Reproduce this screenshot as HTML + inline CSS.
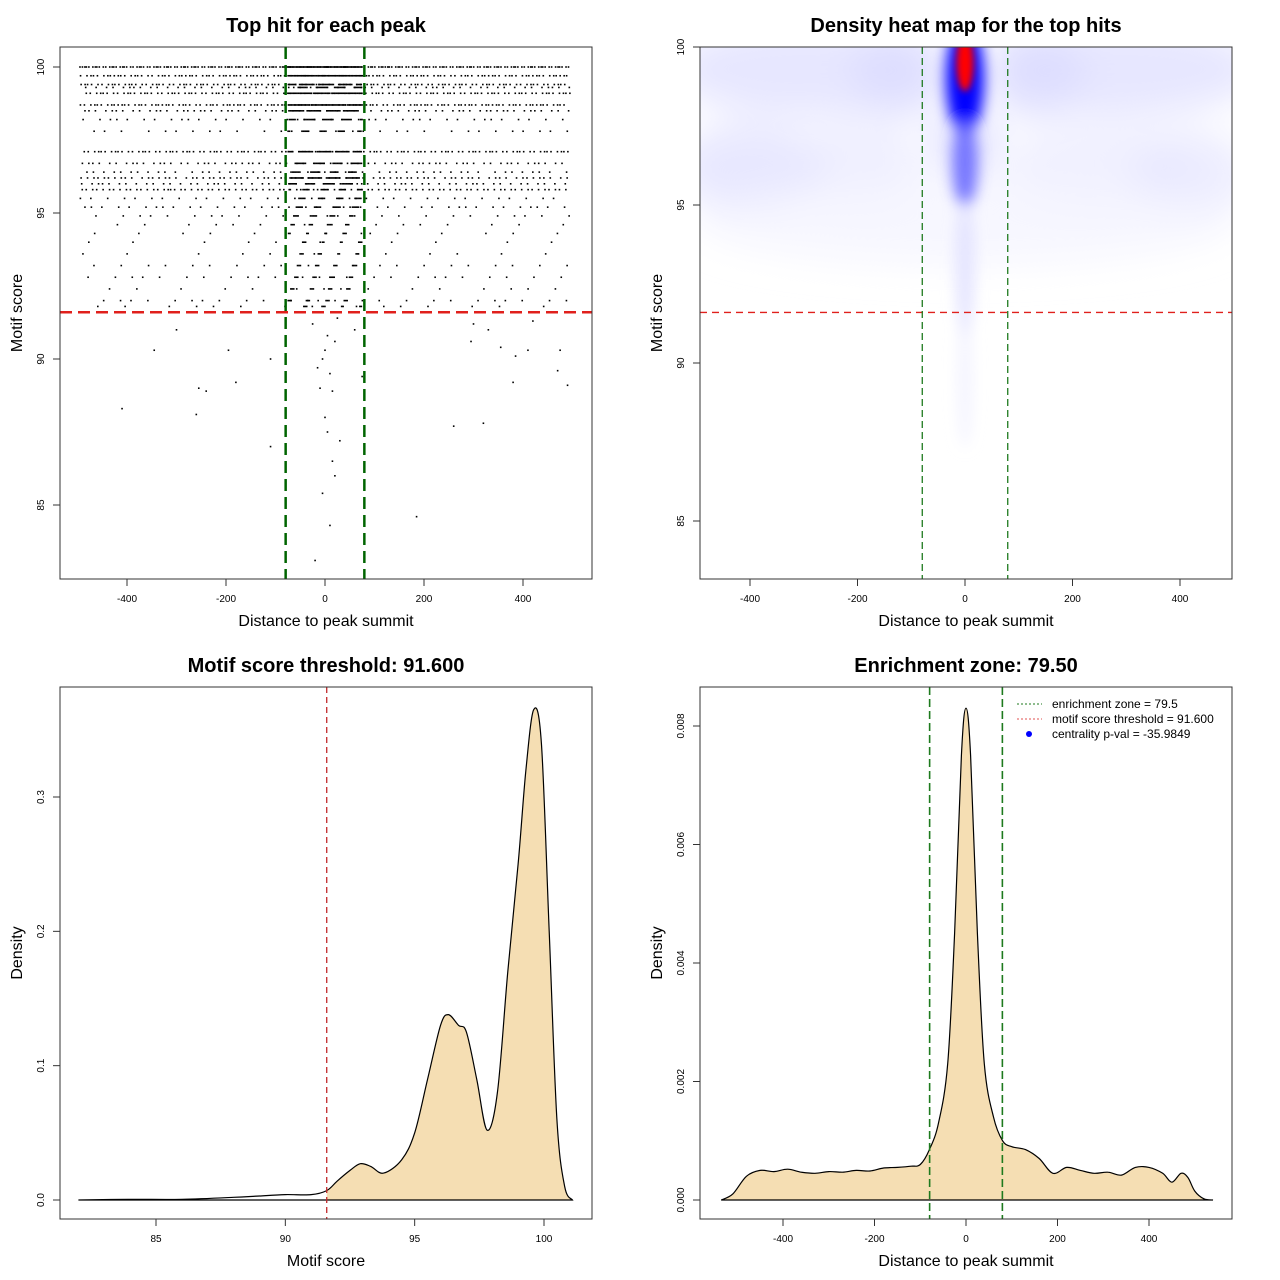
<!DOCTYPE html>
<html><head><meta charset="utf-8"><style>
html,body{margin:0;padding:0;background:#fff}
svg{display:block;font-family:"Liberation Sans",sans-serif}
</style></head><body>
<svg id="s" width="1280" height="1280" viewBox="0 0 1280 1280" xmlns="http://www.w3.org/2000/svg">
<defs>
<filter id="blur" x="-50%" y="-50%" width="200%" height="200%"><feGaussianBlur stdDeviation="18"/></filter>
<filter id="blur2" x="-50%" y="-50%" width="200%" height="200%"><feGaussianBlur stdDeviation="7"/></filter>
<filter id="blur3" x="-50%" y="-50%" width="200%" height="200%"><feGaussianBlur stdDeviation="3.5"/></filter>
<clipPath id="c2"><rect x="700" y="47" width="532" height="532"/></clipPath>
</defs>
</svg>
<script>
// ---- data ----
const rowScores = [100,99.7,99.4,99.3,99.1,98.7,98.5,98.2,97.8,97.1,96.7,96.4,96.2,96.0,95.8,95.5,95.2,94.9,94.6,94.3,94.0,93.6,93.2,92.8,92.4,92.0,91.8];
const rowWide   = [180,120,110,60,110,120,70,40,30,110,70,50,80,60,90,35,40,25,15,12,10,12,20,25,15,25,15];
const rowCenter = [60,60,40,30,50,50,40,30,20,40,30,25,40,30,20,20,20,15,12,10,10,10,12,12,12,12,10];
const sparseX = [-410,-345,-300,-260,-255,-240,-195,-180,-110,-110,-20,10,15,20,-5,5,0,-10,10,-5,0,20,60,75,80,185,260,295,320,330,355,385,380,410,470,475,490,-200,300,420,25,15,-15,5,30,-25];
const sparseY = [88.3,90.3,91.0,88.1,89.0,88.9,90.3,89.2,90.0,87.0,83.1,84.3,86.5,86.0,85.4,87.5,88.0,89.0,89.5,90.0,90.3,90.6,91.0,89.4,88.2,84.6,87.7,90.6,87.8,91.0,90.4,90.1,89.2,90.3,89.6,90.3,89.1,91.6,91.2,91.3,91.4,88.9,89.7,90.8,87.2,91.2,90.9];
const threshold = 91.6;
const zone = 79.5;
// heatmap blobs: x, score, half-width (bp), half-height (score), colour, opacity
const blobX   = [0, 0, 0, 0, 0, 0, -300,300,-120,130, -400,-200,250,420, 0, 0];
const blobY   = [99.0,99.3,99.5,96.3,93.0,89.5, 99.3,99.3,99.2,99.2, 96.2,96.3,96.2,96.0, 97.0, 94.5];
const blobRX  = [36,32,16,24,18,14, 250,250,90,90, 140,120,180,110, 60, 500];
const blobRY  = [1.8,1.4,0.9,1.4,2.2,2.2, 1.5,1.5,1.5,1.5, 1.4,1.4,1.4,1.4, 1.0, 1.4];
const blobCol = ["#0000ff","#0000ff","#ff0000","#6a6aff","#dcdcff","#ececff","#e4e4ff","#e4e4ff","#dcdcff","#dcdcff","#e2e2ff","#e8e8ff","#eaeaff","#e6e6ff","#d0d0ff","#f4f4ff"];
const blobOp  = [1,1,1,0.9,0.7,0.6, 0.9,0.9,0.7,0.7, 0.8,0.7,0.7,0.7, 0.7, 0.7];
const scoreX = [82,84,86,88,89,90,91,91.6,92,92.5,92.9,93.3,93.8,94.5,95,95.5,96,96.3,96.7,97,97.4,97.8,98.2,98.6,99,99.3,99.6,99.9,100.2,100.5,100.8,101.1];
const scoreD = [0,0.0005,0.0005,0.002,0.003,0.004,0.004,0.007,0.014,0.022,0.027,0.025,0.02,0.03,0.05,0.09,0.13,0.138,0.13,0.125,0.09,0.052,0.08,0.17,0.25,0.32,0.365,0.34,0.2,0.06,0.01,0];
const distX = [-535,-510,-480,-450,-420,-390,-360,-330,-300,-270,-240,-210,-180,-150,-120,-100,-80,-60,-40,-25,-10,0,10,25,40,60,80,100,130,160,190,220,250,280,310,340,370,400,430,450,470,485,500,520,540];
const distD = [0,0.1,0.4,0.5,0.48,0.52,0.47,0.45,0.48,0.47,0.5,0.49,0.54,0.55,0.57,0.6,0.85,1.3,2.3,4.5,7.5,8.3,7.5,4.5,2.3,1.4,1.0,0.9,0.85,0.7,0.45,0.55,0.5,0.45,0.47,0.42,0.55,0.55,0.45,0.3,0.45,0.38,0.15,0.02,0];
const p1XTicks = [-400,-200,0,200,400], p1YTicks=[85,90,95,100];
const p3XTicks = [85,90,95,100], p3YTicks=[0,0.1,0.2,0.3], p3YLabels=["0.0","0.1","0.2","0.3"];
const p4YTicks = [0,0.002,0.004,0.006,0.008], p4YLabels=["0.000","0.002","0.004","0.006","0.008"];

const S=document.getElementById('s'), NS='http://www.w3.org/2000/svg';
function mk(tag,attrs,parent,name){const e=document.createElementNS(NS,tag);for(const k in attrs)e.setAttribute(k,attrs[k]);(parent||S).appendChild(e);


return e;}
function lin(d0,d1,r0,r1){return v=>r0+(v-d0)*(r1-r0)/(d1-d0);}
function txt(x,y,s,size,opts,name){const t=mk('text',Object.assign({x:x,y:y,'font-size':size,'text-anchor':'middle'},opts||{}),S,name);t.textContent=s;return t;}
function smooth(pts){let d=`L${pts[0][0].toFixed(1)},${pts[0][1].toFixed(1)}`;
 for(let i=0;i<pts.length-1;i++){const p0=pts[Math.max(0,i-1)],p1=pts[i],p2=pts[i+1],p3=pts[Math.min(pts.length-1,i+2)];
  const c1=[p1[0]+(p2[0]-p0[0])/6,p1[1]+(p2[1]-p0[1])/6],c2=[p2[0]-(p3[0]-p1[0])/6,p2[1]-(p3[1]-p1[1])/6];
  d+=`C${c1[0].toFixed(1)},${c1[1].toFixed(1)} ${c2[0].toFixed(1)},${c2[1].toFixed(1)} ${p2[0].toFixed(1)},${p2[1].toFixed(1)}`;}
 return d;}
function frame(x0,y0,title,xl,yl,pre){
  mk('rect',{x:x0,y:y0,width:532,height:532,fill:'none',stroke:'#333','stroke-width':1},S,pre+'-plot-frame');
  txt(x0+266,y0-15,title,20,{'font-weight':'bold'},pre+'-title');
  txt(x0+266,y0+579,xl,16,{},pre+'-x-axis-title');
  txt(0,0,yl,16,{transform:`translate(${x0-38},${y0+266}) rotate(-90)`},pre+'-y-axis-title');
}
function xticks(x0,y0,ticks,fx,labels,pre){ticks.forEach((t,i)=>{const x=fx(t);mk('line',{x1:x,x2:x,y1:y0+532,y2:y0+539,stroke:'#333'},S,pre+'-x-tick');txt(x,y0+555,labels?labels[i]:String(t),10,{},pre+'-x-tick-label');});}
function yticks(x0,ticks,fy,labels,pre){ticks.forEach((t,i)=>{const y=fy(t);mk('line',{x1:x0-7,x2:x0,y1:y,y2:y,stroke:'#333'},S,pre+'-y-tick');txt(0,0,labels?labels[i]:String(t),10,{transform:`translate(${x0-16},${y}) rotate(-90)`},pre+'-y-tick-label');});}

// ---- panel 1 scatter ----
{const fx=lin(0,400,325,523), fy=lin(100,95,67,213);
 const g=mk('g',{fill:'#000'},S,'scatter-points');
 rowScores.forEach((s,r)=>{
   for(let i=0;i<rowWide[r];i++){const f=((i*0.6180339+r*0.37)%1);const x=-495+990*f;mk('rect',{x:fx(x)-0.8,y:fy(s)-0.8,width:1.6,height:1.6},g,'point');}
   for(let i=0;i<rowCenter[r];i++){const f=((i*0.7548777+r*0.21)%1);const x=-75+150*f;mk('rect',{x:fx(x)-0.8,y:fy(s)-0.8,width:1.6,height:1.6},g,'point');}
 });
 sparseX.forEach((x,i)=>mk('rect',{x:fx(x)-0.8,y:fy(sparseY[i])-0.8,width:1.6,height:1.6},g,'point'));
 mk('line',{x1:60,x2:592,y1:fy(threshold),y2:fy(threshold),stroke:'#e0201c','stroke-width':2.5,'stroke-dasharray':'12 6'},S,'threshold-line');
 [-zone,zone].forEach(z=>mk('line',{x1:fx(z),x2:fx(z),y1:47,y2:579,stroke:'#006400','stroke-width':2.5,'stroke-dasharray':'12 6'},S,'enrichment-zone-line'));
 frame(60,47,'Top hit for each peak','Distance to peak summit','Motif score','p1');
 xticks(60,47,p1XTicks,fx,null,'p1');yticks(60,p1YTicks,fy,null,'p1');}

// ---- panel 2 heatmap ----
{const fx=lin(0,400,965,1180), fy=lin(100,95,47,205);
 const g=mk('g',{'clip-path':'url(#c2)'},S,'heatmap');
 const gb=mk('g',{filter:'url(#blur)'},g,'heatmap-blobs');
 blobX.forEach((x,i)=>{if(i>=6)mk('ellipse',{cx:fx(x),cy:fy(blobY[i]),rx:blobRX[i]*0.5363,ry:blobRY[i]*31.6,fill:blobCol[i],opacity:blobOp[i]},gb,'density-blob');});
 const gc=mk('g',{filter:'url(#blur2)'},g,'heatmap-core');
 blobX.forEach((x,i)=>{if(i<6&&i!==2)mk('ellipse',{cx:fx(x),cy:fy(blobY[i]),rx:blobRX[i]*0.5363,ry:blobRY[i]*31.6,fill:blobCol[i],opacity:blobOp[i]},gc,'density-blob');});
 const gr=mk('g',{filter:'url(#blur3)'},g,'heatmap-peak');
 mk('ellipse',{cx:fx(blobX[2]),cy:fy(blobY[2]),rx:blobRX[2]*0.5363,ry:blobRY[2]*31.6,fill:blobCol[2],opacity:blobOp[2]},gr,'density-peak');
 mk('line',{x1:700,x2:1232,y1:fy(threshold),y2:fy(threshold),stroke:'#e0201c','stroke-width':1.3,'stroke-dasharray':'7 5'},S,'threshold-line');
 [-zone,zone].forEach(z=>mk('line',{x1:fx(z),x2:fx(z),y1:47,y2:579,stroke:'#1e7a1e','stroke-width':1.3,'stroke-dasharray':'7 4'},S,'enrichment-zone-line'));
 frame(700,47,'Density heat map for the top hits','Distance to peak summit','Motif score','p2');
 xticks(700,47,p1XTicks,fx,null,'p2');yticks(700,p1YTicks,fy,null,'p2');}

// ---- panel 3 score density ----
{const fx=lin(85,100,156,544), fy=lin(0,0.3,1200,797);
 const pts=scoreX.map((x,i)=>[fx(x),fy(scoreD[i])]);
 const d=`M${fx(scoreX[0])},${fy(0)}`+smooth(pts)+`L${fx(scoreX[scoreX.length-1])},${fy(0)}Z`;
 const tx=fx(threshold);
 mk('clipPath',{id:'c3'},S.querySelector('defs'),'clip');
 mk('rect',{x:tx,y:687,width:600,height:600},document.getElementById('c3'),'clip-rect');
 mk('path',{d:d,fill:'#f5deb3','clip-path':'url(#c3)'},S,'density-fill');
 mk('path',{d:d,fill:'none',stroke:'#000','stroke-width':1.2},S,'density-curve');
 mk('line',{x1:tx,x2:tx,y1:687,y2:1219,stroke:'#c0282a','stroke-width':1.3,'stroke-dasharray':'6 4'},S,'threshold-line');
 frame(60,687,'Motif score threshold: 91.600','Motif score','Density','p3');
 xticks(60,687,p3XTicks,fx,null,'p3');yticks(60,p3YTicks,fy,p3YLabels,'p3');}

// ---- panel 4 distance density ----
{const fx=lin(0,400,966,1149), fy=lin(0,0.008,1200,726);
 const pts=distX.map((x,i)=>[fx(x),fy(distD[i]/1000)]);
 const d=`M${fx(distX[0])},${fy(0)}`+smooth(pts)+'Z';
 mk('path',{d:d,fill:'#f5deb3',stroke:'#000','stroke-width':1.2},S,'density-curve');
 [-zone,zone].forEach(z=>mk('line',{x1:fx(z),x2:fx(z),y1:687,y2:1219,stroke:'#1e7a1e','stroke-width':1.6,'stroke-dasharray':'8 4'},S,'enrichment-zone-line'));
 frame(700,687,'Enrichment zone: 79.50','Distance to peak summit','Density','p4');
 xticks(700,687,p1XTicks,fx,null,'p4');yticks(700,p4YTicks,fy,p4YLabels,'p4');
 const lg=mk('g',{},S,'legend');
 mk('line',{x1:1017,x2:1042,y1:704,y2:704,stroke:'#1e7a1e','stroke-dasharray':'2 2'},lg,'legend-zone-swatch');
 mk('line',{x1:1017,x2:1042,y1:719,y2:719,stroke:'#e05050','stroke-dasharray':'2 2'},lg,'legend-threshold-swatch');
 mk('circle',{cx:1029,cy:734,r:3,fill:'#0000ff'},lg,'legend-pval-dot');
 [['enrichment zone = 79.5',708],['motif score threshold = 91.600',723],['centrality p-val = -35.9849',738]].forEach(a=>{const t=mk('text',{x:1052,y:a[1],'font-size':12},lg,'legend-entry');t.textContent=a[0];});}
</script>
</body></html>
